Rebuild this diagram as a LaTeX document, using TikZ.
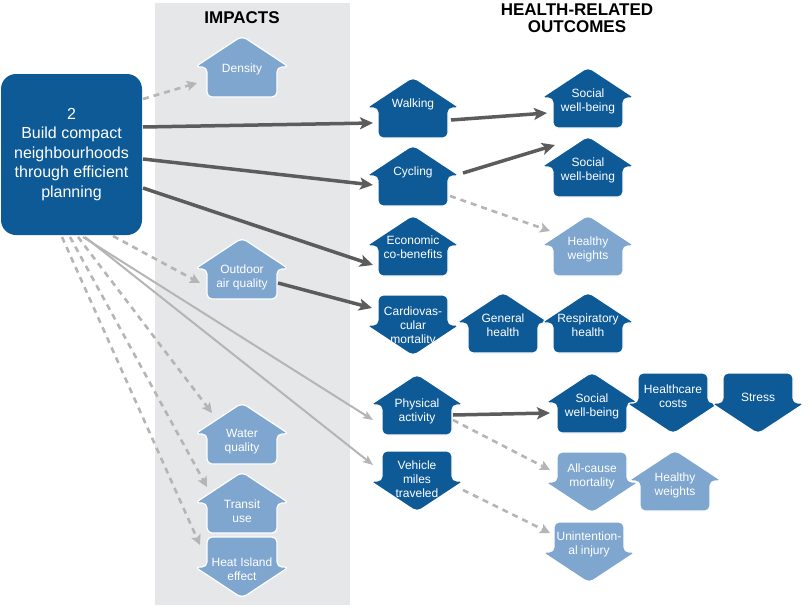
\documentclass[tikz,border=0pt]{standalone}
\usepackage{fontspec}
\setmainfont{Liberation Sans}
\usetikzlibrary{calc,arrows.meta}
\definecolor{dblue}{HTML}{0E5A97}
\definecolor{lblue}{HTML}{7FA6CF}
\definecolor{panelgray}{HTML}{E6E7E8}
\definecolor{darr}{HTML}{5C5C5C}
\definecolor{larr}{HTML}{B5B5B5}
\tikzset{
  lbl/.style={text=white, align=center, inner sep=0pt, font=\fontsize{12}{14}\selectfont},
  hnode/.style={inner sep=0pt, minimum width=94pt, minimum height=61pt},
  housefill/.style={fill=#1, draw=white, line width=1.2pt, rounded corners=5pt},
  darkarrow/.style={draw=darr, line width=3.5pt, -{Stealth[length=13pt,width=12pt,inset=3pt]}},
  lightarrow/.style={draw=larr, line width=2pt, -{Stealth[length=10pt,width=8pt,inset=2pt]}},
  dasharrow/.style={draw=larr, line width=2.6pt, dash pattern=on 6pt off 5pt, -{Stealth[length=10pt,width=10pt,inset=2pt]}},
  title/.style={font=\fontsize{17}{17}\selectfont\bfseries, align=center, inner sep=0pt},
}
\newcommand\houseup[6]{%
  \path[housefill=#4] (#2,#3-31) -- (#2+47,#3) -- (#2+35,#3) -- (#2+35,#3+30) -- (#2-35,#3+30) -- (#2-35,#3) -- (#2-47,#3) -- cycle;
  \node[hnode] (#1) at (#2,#3) {};
  \node[lbl] at (#2,#5) {#6};
}
\newcommand\housedown[6]{%
  \path[housefill=#4] (#2,#3+31) -- (#2-47,#3) -- (#2-35,#3) -- (#2-35,#3-30) -- (#2+35,#3-30) -- (#2+35,#3) -- (#2+47,#3) -- cycle;
  \node[hnode] (#1) at (#2,#3) {};
  \node[lbl] at (#2,#5) {#6};
}
\begin{document}
\begin{tikzpicture}[x=1pt,y=-1pt]
\useasboundingbox (0,0) rectangle (811,605);
\fill[panelgray] (155,3) rectangle (350,605);
\node[title] at (242,18) {IMPACTS};
\node[title] at (577,18.5) {HEALTH-RELATED\\OUTCOMES};
% main box
\node[fill=dblue, rounded corners=15pt, minimum width=141pt, minimum height=161pt, inner sep=0pt,
  text=white, align=center, font=\fontsize{16}{19.5}\selectfont] (main) at (71.5,154.5)
  {2\\Build compact\\neighbourhoods\\through efficient\\planning};
% impacts
\houseup{dens}{242}{67}{lblue}{69}{Density}
\houseup{air}{242}{269}{lblue}{277}{Outdoor\\air quality}
\houseup{water}{242}{434}{lblue}{442}{Water\\quality}
\houseup{transit}{242}{503}{lblue}{511}{Transit\\use}
\housedown{heat}{242}{567}{lblue}{569}{Heat Island\\effect}
% column 1
\houseup{walk}{413}{108}{dblue}{104}{Walking}
\houseup{cyc}{413}{176}{dblue}{172}{Cycling}
\houseup{econ}{413}{246}{dblue}{247}{Economic\\co-benefits}
\housedown{cardio}{413}{325}{dblue}{326}{Cardiovas-\\cular\\mortality}
\houseup{gen}{503}{323}{dblue}{325}{General\\health}
\houseup{resp}{588}{323}{dblue}{325}{Respiratory\\health}
\houseup{phys}{417}{405}{dblue}{411}{Physical\\activity}
\housedown{veh}{417}{481}{dblue}{479}{Vehicle\\miles\\traveled}
% column 2
\houseup{soc1}{588}{98}{dblue}{101}{Social\\well-being}
\houseup{soc2}{588}{167}{dblue}{170}{Social\\well-being}
\houseup{hw1}{588}{246}{lblue}{249}{Healthy\\weights}
\houseup{soc3}{592}{403}{dblue}{406}{Social\\well-being}
\housedown{hcost}{673}{403}{dblue}{396}{Healthcare\\costs}
\housedown{stress}{758}{403}{dblue}{397}{Stress}
\housedown{allc}{592}{482}{lblue}{476}{All-cause\\mortality}
\houseup{hw2}{675}{481}{lblue}{485}{Healthy\\weights}
\housedown{unint}{589}{552}{lblue}{544}{Unintention-\\al injury}
% connectors from main
\draw[dasharrow] ($(main)+(71.5,-55.5)$) -- ($(dens)+(-45,16)$);
\draw[darkarrow] ($(main)+(71.5,-27.5)$) -- ($(walk)+(-40,15)$);
\draw[darkarrow] ($(main)+(71.5,4.5)$) -- ($(cyc)+(-40,9)$);
\draw[darkarrow] ($(main)+(71.5,33.5)$) -- ($(econ)+(-40,19)$);
\draw[dasharrow] ($(main)+(41.5,81.5)$) -- ($(air)+(-42,14)$);
\draw[lightarrow] ($(main)+(11.5,82.5)$) -- ($(phys)+(-44,15)$);
\draw[lightarrow] ($(main)+(13.5,82.5)$) -- ($(veh)+(-44,-16)$);
\draw[dasharrow] ($(main)+(6.5,82.5)$) -- ($(water)+(-30,-21)$);
\draw[dasharrow] ($(main)+(-1.5,82.5)$) -- ($(transit)+(-35,-16)$);
\draw[dasharrow] ($(main)+(-9.5,82.5)$) -- ($(heat)+(-42,-22)$);
% other connectors
\draw[darkarrow] ($(walk)+(38,12)$) -- ($(soc1)+(-41,15)$);
\draw[darkarrow] ($(cyc)+(50,-3)$) -- ($(soc2)+(-33,-22)$);
\draw[dasharrow] ($(cyc)+(37,20)$) -- ($(hw1)+(-38,-15)$);
\draw[darkarrow] ($(air)+(36,14)$) -- ($(cardio)+(-41,-17)$);
\draw[darkarrow] ($(phys)+(36,10)$) -- ($(soc3)+(-42,10)$);
\draw[dasharrow] ($(phys)+(36,15)$) -- ($(allc)+(-42,-12)$);
\draw[dasharrow] ($(veh)+(46,9)$) -- ($(unint)+(-39,-19)$);
\end{tikzpicture}
\end{document}
